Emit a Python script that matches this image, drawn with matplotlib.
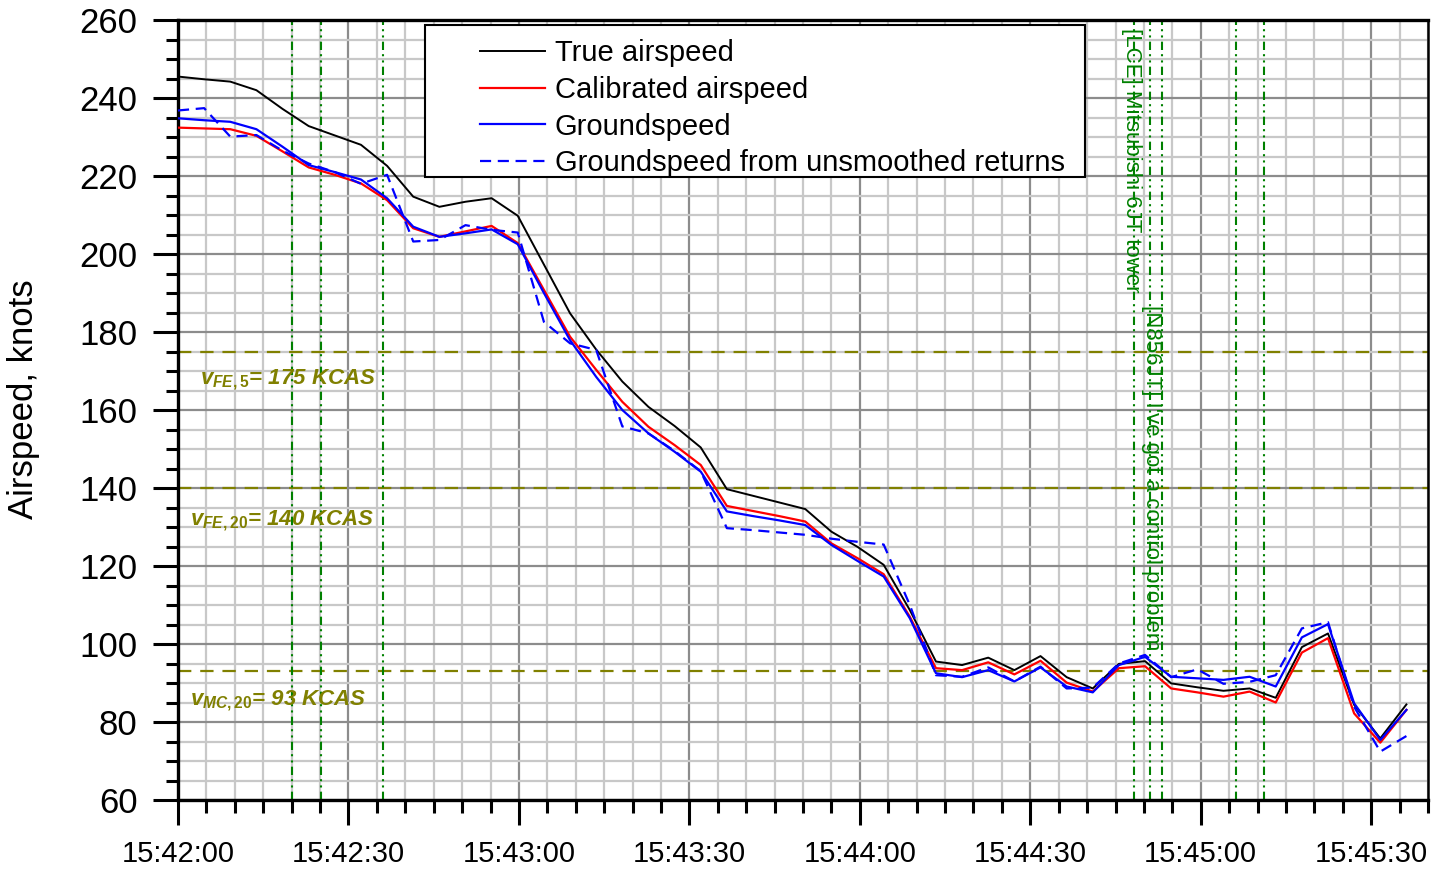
import matplotlib
matplotlib.use("Agg")
import matplotlib.pyplot as plt
from matplotlib import font_manager
from matplotlib.ticker import MultipleLocator, FuncFormatter
from matplotlib.patches import Rectangle

plt.rcParams['font.family'] = ['Liberation Sans', 'DejaVu Sans']
plt.rcParams['mathtext.fontset'] = 'custom'
plt.rcParams['mathtext.it'] = 'Liberation Sans:italic:bold'
plt.rcParams['mathtext.rm'] = 'Liberation Sans:bold'

# seconds after 15:42:00
time_s = [0, 4.6, 9.2, 13.8, 18.4, 23.0, 27.6, 32.2, 36.8, 41.4, 46.0, 50.6,
          55.2, 59.8, 64.4, 69.0, 73.6, 78.2, 82.8, 87.4, 92.0, 96.6, 101.2, 105.8,
          110.4, 115.0, 119.6, 124.2, 128.8, 133.4, 138.0, 142.6, 147.2, 151.8, 156.4, 161.0,
          165.6, 170.2, 174.8, 179.4, 184.0, 188.6, 193.2, 197.8, 202.4, 207.0, 211.6, 216.2]

true_airspeed = [245.5, 244.8, 244.2, 242.0, 237.2, 232.8, 230.4, 228.0, 222.6, 214.7, 212.1, 213.4,
                 214.3, 209.8, 197.3, 184.8, 175.5, 167.3, 160.8, 155.9, 150.4, 139.7, 138.0, 136.3,
                 134.6, 128.8, 124.9, 120.3, 108.7, 95.5, 94.6, 96.5, 93.3, 96.9, 91.5, 88.6,
                 94.9, 95.6, 89.9, 88.9, 88.0, 88.6, 86.2, 99.2, 102.7, 84.4, 75.8, 84.5]

calibrated_airspeed = [232.4, 232.2, 232.0, 230.3, 226.3, 222.2, 220.3, 218.1, 213.8, 206.6, 204.4, 205.8,
                       207.2, 202.8, 190.8, 178.8, 170.3, 162.1, 155.7, 151.0, 145.9, 135.4, 134.1, 132.8,
                       131.4, 125.8, 122.0, 117.9, 107.0, 93.8, 93.3, 95.3, 92.2, 95.7, 90.1, 87.8,
                       93.8, 94.3, 88.6, 87.6, 86.5, 87.8, 85.0, 97.8, 101.5, 82.2, 74.7, 83.1]

groundspeed = [234.8, 234.3, 233.9, 232.0, 227.5, 222.8, 221.0, 219.1, 214.3, 207.0, 204.4, 205.3,
               206.3, 202.5, 190.0, 177.9, 168.5, 160.0, 154.0, 149.3, 144.2, 134.0, 132.8, 131.7,
               130.5, 125.4, 121.3, 117.3, 106.6, 92.5, 91.5, 93.3, 90.4, 94.0, 89.1, 87.6,
               94.6, 96.7, 91.6, 91.2, 90.8, 91.6, 89.1, 101.7, 105.1, 84.8, 75.4, 83.1]

groundspeed_raw = [236.8, 237.4, 230.1, 230.5, 226.5, 223.2, 221.0, 218.0, 220.3, 203.2, 203.6, 207.4,
                   206.2, 205.5, 182.6, 177.1, 175.4, 155.8, 154.0, 149.5, 144.3, 129.7, 129.2, 128.6,
                   128.0, 127.0, 126.2, 125.5, 110.0, 92.0, 91.6, 94.0, 90.4, 94.2, 88.6, 88.8,
                   95.0, 97.2, 91.5, 93.5, 89.8, 90.3, 92.0, 104.0, 105.6, 83.9, 72.4, 76.4]

series_labels = ["True airspeed", "Calibrated airspeed", "Groundspeed",
                 "Groundspeed from unsmoothed returns"]

limit_speeds = [175, 140, 93]
limit_labels = [r"$v_{FE,5}$= 175 KCAS", r"$v_{FE,20}$= 140 KCAS", r"$v_{MC,20}$= 93 KCAS"]
limit_label_pos = [(3.9, 166.8), (2.1, 130.5), (2.1, 84.4)]

event_times = [20.1, 25.1, 36.1, 168.2, 171.1, 173.1, 186.2, 191.2]
event_texts = ["[LCE] Mitsubishi 6JT tower", "[N856JT] I've got a control problem"]
event_text_pos = [(167.9, 258.0), (171.4, 186.9)]

x_tick_labels = ["15:42:00", "15:42:30", "15:43:00", "15:43:30", "15:44:00",
                 "15:44:30", "15:45:00", "15:45:30"]

# narrow font for time labels if available
try:
    path = font_manager.findfont(font_manager.FontProperties(family='Liberation Sans Narrow'),
                                 fallback_to_default=False)
    has_narrow = 'narrow' in path.lower()
except Exception:
    has_narrow = False

fig = plt.figure(figsize=(14.42, 8.72), dpi=100)
ax = fig.add_axes([178 / 1442, 1 - 800 / 872, 1250 / 1442, 780 / 872])
ax.set_xlim(0, 220)
ax.set_ylim(60, 260)

# grid
ax.xaxis.set_major_locator(MultipleLocator(30))
ax.xaxis.set_minor_locator(MultipleLocator(5))
ax.yaxis.set_major_locator(MultipleLocator(20))
ax.yaxis.set_minor_locator(MultipleLocator(5))
ax.grid(which='minor', color='#c8c8c8', lw=1.6, zorder=0)
ax.grid(which='major', color='#8c8c8c', lw=1.6, zorder=0)
ax.set_axisbelow(True)

ax.xaxis.set_major_formatter(FuncFormatter(lambda v, p: x_tick_labels[int(round(v / 30))]
                                           if 0 <= int(round(v / 30)) < len(x_tick_labels) else ""))

ax.tick_params(which='major', direction='out', length=18, width=2.2)
ax.tick_params(which='minor', direction='out', length=9, width=2.2)
ax.tick_params(axis='y', which='major', pad=11, labelsize=25)
if has_narrow:
    ax.tick_params(axis='x', which='major', pad=9, labelsize=25,
                   labelfontfamily='Liberation Sans Narrow')
else:
    ax.tick_params(axis='x', which='major', pad=11, labelsize=21)
for s in ['left', 'bottom', 'top']:
    ax.spines[s].set_linewidth(2.4)
ax.spines['right'].set_linewidth(1.8)

ax.set_ylabel("Airspeed, knots", fontsize=25)
ax.yaxis.set_label_coords(-0.110, 0.514)

# limit lines
for v, lab, pos in zip(limit_speeds, limit_labels, limit_label_pos):
    ax.axhline(v, color='#808000', lw=1.6, ls=(0, (6, 4)), zorder=2)
    ax.text(pos[0], pos[1], lab, color='#808000', fontsize=16, fontweight='bold',
            style='italic', ha='left', va='baseline', zorder=3)

# event lines
for t in event_times:
    ax.axvline(t, color='#008000', lw=1.5, ls=(0, (4, 2, 1, 2, 1, 2)), zorder=2)
for txt, pos in zip(event_texts, event_text_pos):
    ax.text(pos[0], pos[1], txt, color='#008000', fontsize=16, rotation=-90,
            ha='center', va='top', zorder=3)

# data
l1, = ax.plot(time_s, true_airspeed, color='black', lw=1.4, zorder=4)
l2, = ax.plot(time_s, calibrated_airspeed, color='red', lw=1.6, zorder=4)
l3, = ax.plot(time_s, groundspeed, color='blue', lw=1.6, zorder=5)
l4, = ax.plot(time_s, groundspeed_raw, color='blue', lw=1.6, ls=(0, (5, 3)), zorder=5)

# legend frame + legend
rect = Rectangle((247 / 1250, (800 - 177) / 780), 660 / 1250, 152 / 780,
                 transform=ax.transAxes, facecolor='white', edgecolor='black',
                 lw=1.5, zorder=6)
ax.add_patch(rect)
leg = ax.legend([l1, l2, l3, l4], series_labels, loc='upper left',
                bbox_to_anchor=((480 - 178) / 1250, (800 - 39) / 780),
                frameon=False, fontsize=21, borderpad=0, borderaxespad=0,
                handlelength=2.23, handletextpad=0.34, labelspacing=0.3)
leg.set_zorder(7)

fig.savefig("out.png", dpi=100)
